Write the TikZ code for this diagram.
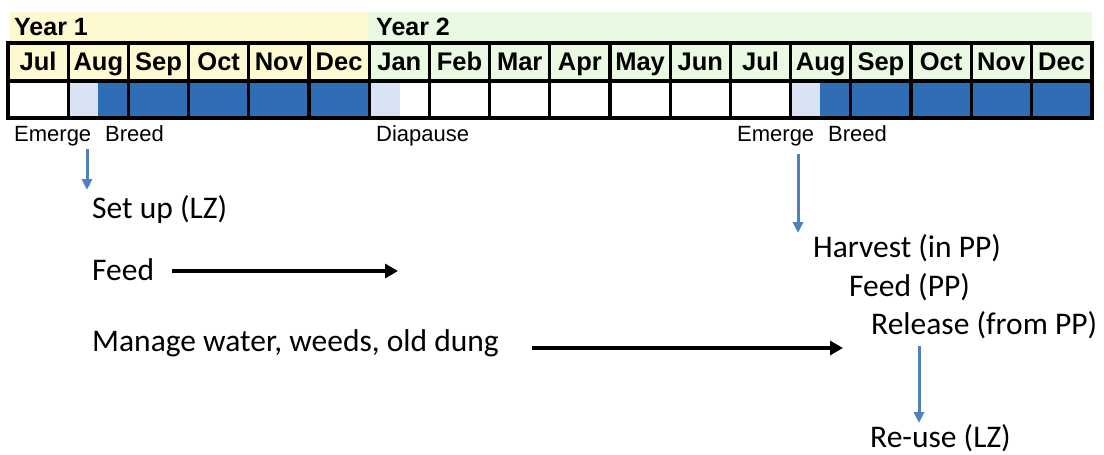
\documentclass[tikz,border=0pt]{standalone}
\usepackage{fontspec}
\setmainfont{Carlito}
\newfontfamily\arialf{Liberation Sans}
\usetikzlibrary{arrows.meta}
\definecolor{yelbg}{HTML}{FDFAD2}
\definecolor{grnbg}{HTML}{EAF9E2}
\definecolor{lblue}{HTML}{D9E3F3}
\definecolor{dblue}{HTML}{2F6DB5}
\definecolor{arrblue}{HTML}{4F81BD}
\tikzset{
  month/.style={font=\arialf\bfseries\fontsize{25.5}{25.5}\selectfont, inner sep=0pt, anchor=base},
  yearlbl/.style={font=\arialf\bfseries\fontsize{25}{25}\selectfont, anchor=base west, inner sep=0pt},
  stage/.style={font=\arialf\fontsize{22}{22}\selectfont, anchor=base west, inner sep=0pt},
  task/.style={font=\fontsize{31.5}{31.5}\selectfont, anchor=base west, inner sep=0pt},
  bluearrow/.style={draw=arrblue, line width=3pt, -{Triangle[length=11pt,width=10pt]}},
  blackarrow/.style={draw=black, line width=4.5pt, -{Triangle[length=13pt,width=14pt]}},
  gridline/.style={line width=3.2pt}
}
\begin{document}
\begin{tikzpicture}[x=1pt,y=-1pt]
\useasboundingbox (0,0) rectangle (1104,455);
% year header bands
\fill[yelbg] (10,12) rectangle (368,43);
\fill[grnbg] (368,12) rectangle (1092,43);
\node[yearlbl] (y1) at (14,35) {Year 1};
\node[yearlbl] (y2) at (376,35) {Year 2};
% month row fills
\pgfmathsetmacro{\cw}{60.2}
\fill[yelbg] (8,43) rectangle (368,81);
\fill[grnbg] (368,43) rectangle (1092,81);
\fill[white] (8,81) rectangle (1092,118);
% second row colouring
\fill[lblue] (68,81) rectangle (98,118);
\fill[dblue] (98,81) rectangle (368,118);
\fill[lblue] (368,81) rectangle (400,118);
\fill[lblue] (790,81) rectangle (820,118);
\fill[dblue] (820,81) rectangle (1092,118);
% grid
\draw[gridline] (8,43) rectangle (1092,118);
\draw[gridline] (8,81) -- (1092,81);
\foreach \i in {1,...,17} {
  \draw[gridline] ({8+\i*\cw},43) -- ({8+\i*\cw},118);
}
% month names
\foreach \m [count=\i from 0] in {Jul,Aug,Sep,Oct,Nov,Dec,Jan,Feb,Mar,Apr,May,Jun,Jul,Aug,Sep,Oct,Nov,Dec} {
  \node[month] (m\i) at ({8+(\i+0.5)*\cw},70.5) {\m};
}
% stage labels
\node[stage] (em1) at (14,141) {Emerge};
\node[stage] (br1) at (105,141) {Breed};
\node[stage] (dia) at (376,141) {Diapause};
\node[stage] (em2) at (737,141) {Emerge};
\node[stage] (br2) at (828,141) {Breed};
% tasks
\node[task] (setup) at (92,218) {Set up (LZ)};
\node[task] (feed) at (92,280) {Feed};
\node[task] (manage) at (92,351) {Manage water, weeds, old dung};
\node[task] (harvest) at (813,257) {Harvest (in PP)};
\node[task] (feedpp) at (849,296) {Feed (PP)};
\node[task] (release) at (871,334) {Release (from PP)};
\node[task] (reuse) at (870,447) {Re-use (LZ)};
% coordinates for arrow ends
\coordinate (a1s) at (87,149);
\coordinate (a1e) at (87,190);
\coordinate (a2s) at (798,154);
\coordinate (a2e) at (798,233);
\coordinate (a3s) at (919,346);
\coordinate (a3e) at (919,423);
\coordinate (f1s) at (172,271);
\coordinate (f1e) at (398,271);
\coordinate (m1s) at (532,348);
\coordinate (m1e) at (843,348);
\draw[bluearrow] (a1s) -- (a1e);
\draw[bluearrow] (a2s) -- (a2e);
\draw[bluearrow] (a3s) -- (a3e);
\draw[blackarrow] (f1s) -- (f1e);
\draw[blackarrow] (m1s) -- (m1e);
\end{tikzpicture}
\end{document}
